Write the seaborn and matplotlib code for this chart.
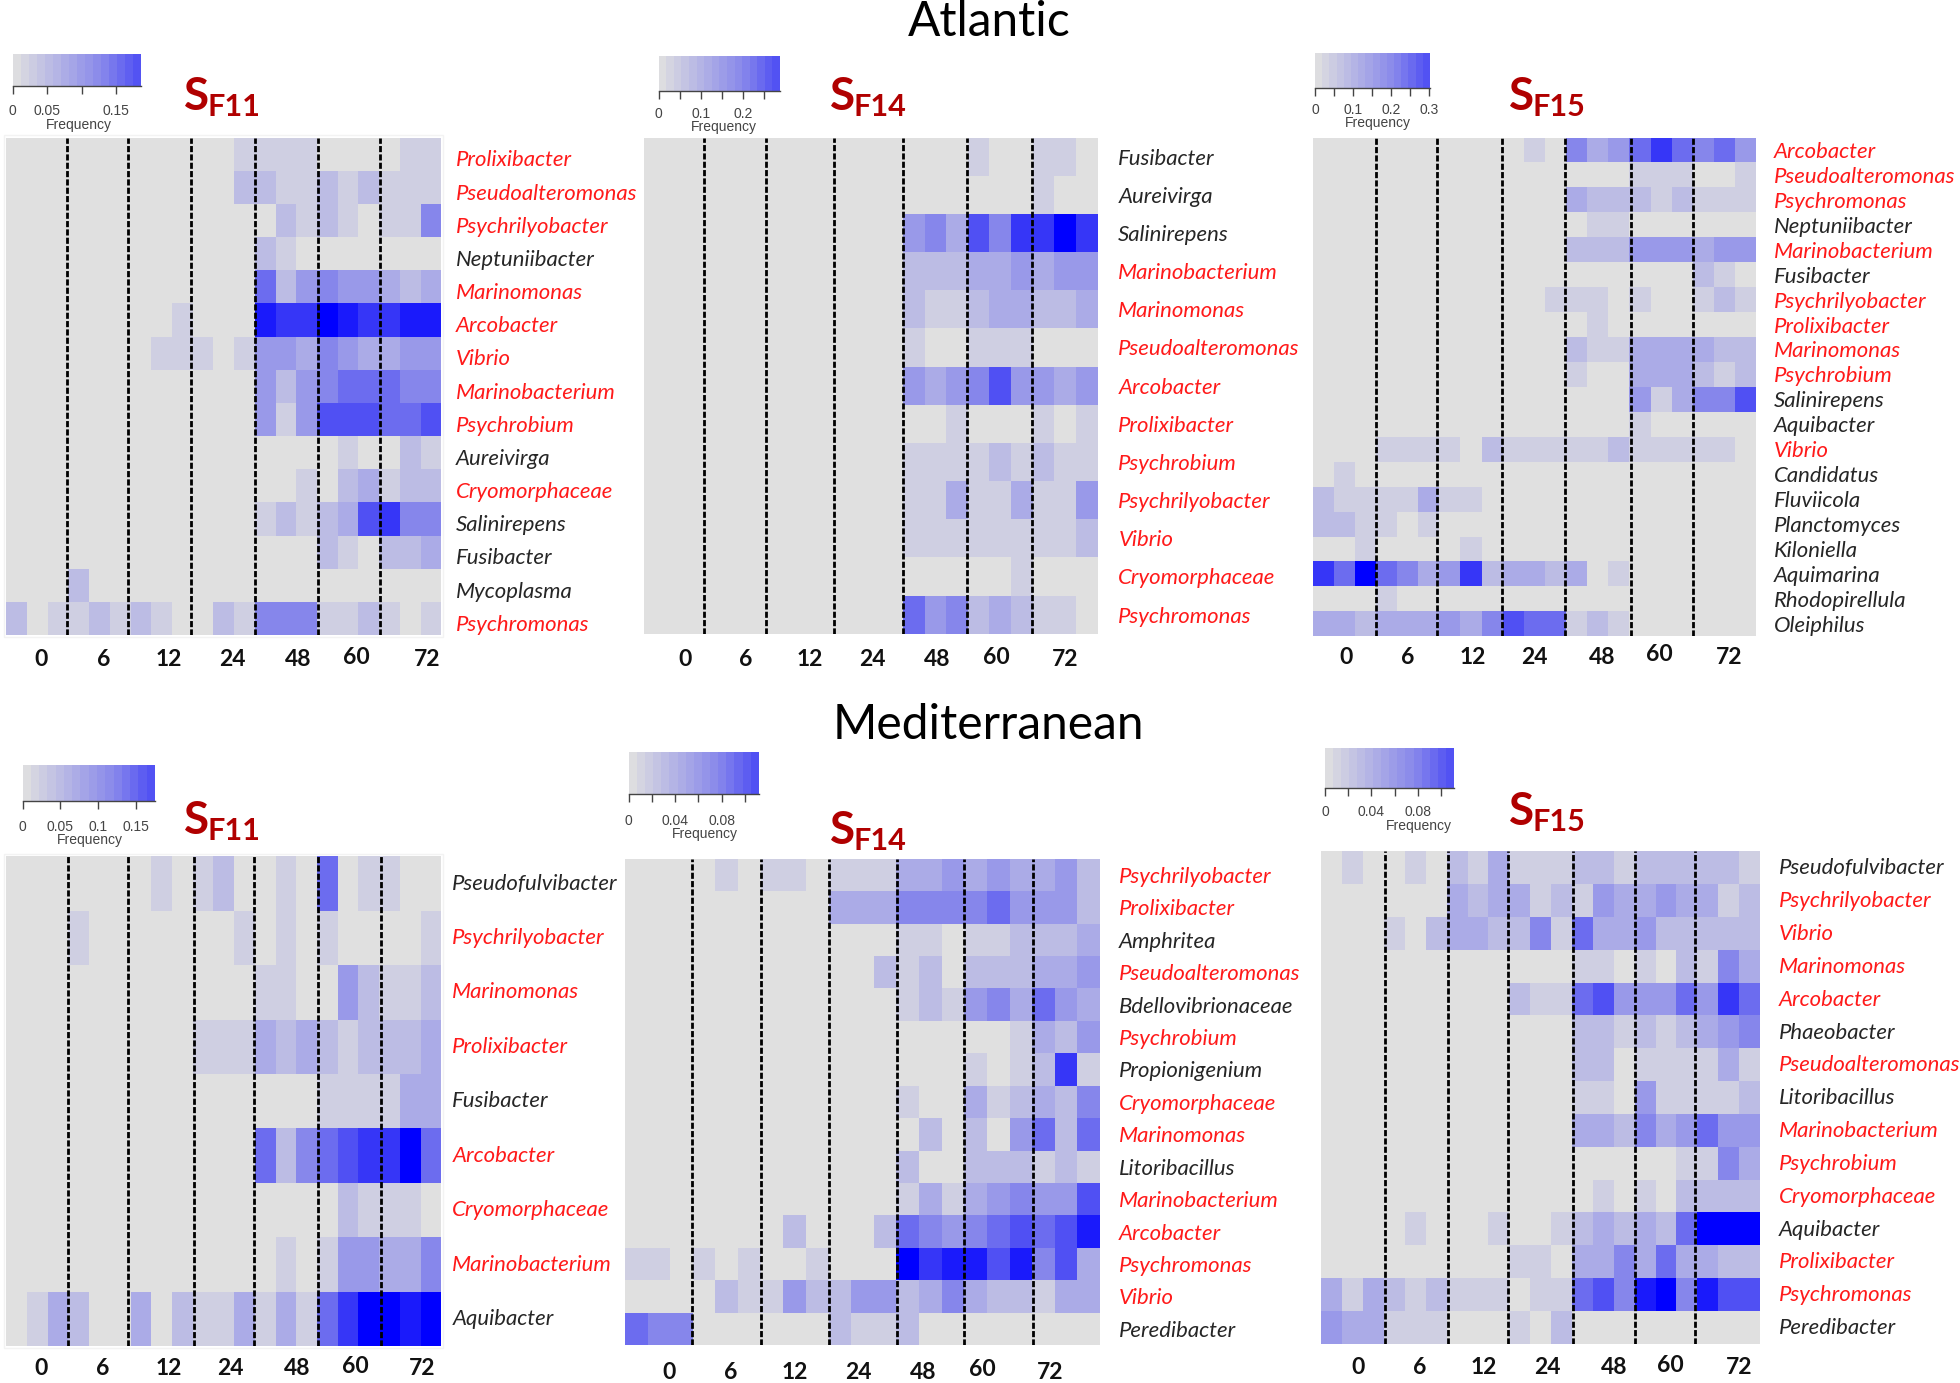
"""Six genus-by-time frequency heatmaps for the Atlantic and Mediterranean trials."""

import numpy as np
import pandas as pd
import matplotlib.pyplot as plt
from matplotlib.colors import LinearSegmentedColormap
from matplotlib.patches import Rectangle
from matplotlib.transforms import ScaledTranslation

import seaborn as sns

####################################################################################################
####################################################################################################

## DATA
TIMES = ['0', '6', '12', '24', '48', '60', '72']
SAMPLES = list(range(21))

# Genera marked in red in every panel
RED_GENERA = ['Prolixibacter', 'Pseudoalteromonas', 'Psychrilyobacter', 'Marinomonas', 'Arcobacter',
              'Vibrio', 'Marinobacterium', 'Psychrobium', 'Cryomorphaceae', 'Psychromonas']

# Cells are colour steps: 0 is grey and 10 is full blue
ATL_F11_GENERA = ['Prolixibacter', 'Pseudoalteromonas', 'Psychrilyobacter', 'Neptuniibacter',
                  'Marinomonas', 'Arcobacter', 'Vibrio', 'Marinobacterium', 'Psychrobium',
                  'Aureivirga', 'Cryomorphaceae', 'Salinirepens', 'Fusibacter', 'Mycoplasma',
                  'Psychromonas']
ATL_F11 = [
    [0, 0, 0, 0, 0, 0, 0, 0, 0, 0, 0, 1, 1, 1, 1, 0, 0, 0, 0, 1, 1],
    [0, 0, 0, 0, 0, 0, 0, 0, 0, 0, 0, 2, 2, 1, 1, 2, 1, 2, 1, 1, 1],
    [0, 0, 0, 0, 0, 0, 0, 0, 0, 0, 0, 0, 0, 2, 1, 2, 1, 0, 1, 1, 5],
    [0, 0, 0, 0, 0, 0, 0, 0, 0, 0, 0, 0, 2, 1, 0, 0, 0, 0, 0, 0, 0],
    [0, 0, 0, 0, 0, 0, 0, 0, 0, 0, 0, 0, 6, 2, 4, 5, 4, 4, 3, 2, 3],
    [0, 0, 0, 0, 0, 0, 0, 0, 1, 0, 0, 0, 9, 8, 8, 10, 9, 8, 8, 9, 9],
    [0, 0, 0, 0, 0, 0, 0, 1, 1, 1, 0, 1, 4, 4, 3, 5, 4, 3, 3, 4, 4],
    [0, 0, 0, 0, 0, 0, 0, 0, 0, 0, 0, 0, 4, 2, 4, 5, 6, 6, 6, 5, 5],
    [0, 0, 0, 0, 0, 0, 0, 0, 0, 0, 0, 0, 4, 1, 4, 7, 7, 7, 6, 6, 7],
    [0, 0, 0, 0, 0, 0, 0, 0, 0, 0, 0, 0, 0, 0, 0, 0, 1, 0, 0, 2, 1],
    [0, 0, 0, 0, 0, 0, 0, 0, 0, 0, 0, 0, 0, 0, 1, 0, 2, 3, 1, 2, 2],
    [0, 0, 0, 0, 0, 0, 0, 0, 0, 0, 0, 0, 1, 2, 1, 2, 3, 7, 8, 5, 5],
    [0, 0, 0, 0, 0, 0, 0, 0, 0, 0, 0, 0, 0, 0, 0, 2, 1, 0, 2, 2, 3],
    [0, 0, 0, 2, 0, 0, 0, 0, 0, 0, 0, 0, 0, 0, 0, 0, 0, 0, 0, 0, 0],
    [2, 0, 1, 1, 2, 1, 2, 1, 0, 0, 2, 1, 5, 5, 5, 1, 1, 2, 1, 0, 1],
]

ATL_F14_GENERA = ['Fusibacter', 'Aureivirga', 'Salinirepens', 'Marinobacterium', 'Marinomonas',
                  'Pseudoalteromonas', 'Arcobacter', 'Prolixibacter', 'Psychrobium',
                  'Psychrilyobacter', 'Vibrio', 'Cryomorphaceae', 'Psychromonas']
ATL_F14 = [
    [0, 0, 0, 0, 0, 0, 0, 0, 0, 0, 0, 0, 0, 0, 0, 1, 0, 0, 1, 1, 0],
    [0, 0, 0, 0, 0, 0, 0, 0, 0, 0, 0, 0, 0, 0, 0, 0, 0, 0, 1, 0, 0],
    [0, 0, 0, 0, 0, 0, 0, 0, 0, 0, 0, 0, 4, 5, 3, 7, 5, 8, 8, 10, 8],
    [0, 0, 0, 0, 0, 0, 0, 0, 0, 0, 0, 0, 2, 2, 2, 3, 3, 4, 3, 4, 4],
    [0, 0, 0, 0, 0, 0, 0, 0, 0, 0, 0, 0, 2, 1, 1, 2, 3, 3, 2, 2, 3],
    [0, 0, 0, 0, 0, 0, 0, 0, 0, 0, 0, 0, 1, 0, 0, 1, 1, 1, 0, 0, 0],
    [0, 0, 0, 0, 0, 0, 0, 0, 0, 0, 0, 0, 4, 3, 4, 5, 7, 4, 4, 3, 4],
    [0, 0, 0, 0, 0, 0, 0, 0, 0, 0, 0, 0, 0, 0, 1, 0, 0, 0, 1, 0, 1],
    [0, 0, 0, 0, 0, 0, 0, 0, 0, 0, 0, 0, 1, 1, 1, 1, 2, 1, 2, 1, 1],
    [0, 0, 0, 0, 0, 0, 0, 0, 0, 0, 0, 0, 1, 1, 3, 1, 1, 3, 1, 1, 4],
    [0, 0, 0, 0, 0, 0, 0, 0, 0, 0, 0, 0, 1, 1, 1, 1, 1, 1, 1, 1, 2],
    [0, 0, 0, 0, 0, 0, 0, 0, 0, 0, 0, 0, 0, 0, 0, 0, 0, 1, 0, 0, 0],
    [0, 0, 0, 0, 0, 0, 0, 0, 0, 0, 0, 0, 6, 4, 5, 2, 3, 2, 1, 1, 0],
]

ATL_F15_GENERA = ['Arcobacter', 'Pseudoalteromonas', 'Psychromonas', 'Neptuniibacter',
                  'Marinobacterium', 'Fusibacter', 'Psychrilyobacter', 'Prolixibacter',
                  'Marinomonas', 'Psychrobium', 'Salinirepens', 'Aquibacter', 'Vibrio',
                  'Candidatus', 'Fluviicola', 'Planctomyces', 'Kiloniella', 'Aquimarina',
                  'Rhodopirellula', 'Oleiphilus']
ATL_F15 = [
    [0, 0, 0, 0, 0, 0, 0, 0, 0, 0, 1, 0, 5, 3, 4, 6, 8, 6, 5, 6, 4],
    [0, 0, 0, 0, 0, 0, 0, 0, 0, 0, 0, 0, 0, 0, 0, 1, 1, 1, 0, 0, 1],
    [0, 0, 0, 0, 0, 0, 0, 0, 0, 0, 0, 0, 3, 2, 2, 2, 1, 2, 1, 1, 1],
    [0, 0, 0, 0, 0, 0, 0, 0, 0, 0, 0, 0, 0, 1, 1, 0, 0, 0, 0, 0, 0],
    [0, 0, 0, 0, 0, 0, 0, 0, 0, 0, 0, 0, 2, 2, 2, 4, 4, 4, 3, 4, 4],
    [0, 0, 0, 0, 0, 0, 0, 0, 0, 0, 0, 0, 0, 0, 0, 0, 0, 0, 2, 1, 0],
    [0, 0, 0, 0, 0, 0, 0, 0, 0, 0, 0, 1, 1, 1, 0, 1, 0, 0, 1, 2, 1],
    [0, 0, 0, 0, 0, 0, 0, 0, 0, 0, 0, 0, 0, 1, 0, 0, 0, 0, 0, 0, 0],
    [0, 0, 0, 0, 0, 0, 0, 0, 0, 0, 0, 0, 2, 1, 1, 3, 3, 3, 3, 2, 2],
    [0, 0, 0, 0, 0, 0, 0, 0, 0, 0, 0, 0, 1, 0, 0, 3, 3, 3, 2, 1, 2],
    [0, 0, 0, 0, 0, 0, 0, 0, 0, 0, 0, 0, 0, 0, 0, 4, 1, 3, 5, 5, 7],
    [0, 0, 0, 0, 0, 0, 0, 0, 0, 0, 0, 0, 0, 0, 0, 1, 0, 0, 0, 0, 0],
    [0, 0, 0, 1, 1, 1, 1, 0, 2, 1, 1, 1, 1, 1, 2, 1, 1, 1, 1, 1, 0],
    [0, 1, 0, 0, 0, 0, 0, 0, 0, 0, 0, 0, 0, 0, 0, 0, 0, 0, 0, 0, 0],
    [2, 1, 1, 1, 1, 3, 1, 1, 0, 0, 0, 0, 0, 0, 0, 0, 0, 0, 0, 0, 0],
    [2, 2, 1, 1, 0, 1, 0, 0, 0, 0, 0, 0, 0, 0, 0, 0, 0, 0, 0, 0, 0],
    [0, 0, 1, 0, 0, 0, 0, 1, 0, 0, 0, 0, 0, 0, 0, 0, 0, 0, 0, 0, 0],
    [8, 6, 10, 6, 5, 3, 4, 8, 2, 3, 3, 2, 3, 0, 1, 0, 0, 0, 0, 0, 0],
    [0, 0, 0, 1, 0, 0, 0, 0, 0, 0, 0, 0, 0, 0, 0, 0, 0, 0, 0, 0, 0],
    [3, 3, 2, 3, 3, 3, 4, 3, 5, 7, 6, 6, 1, 2, 1, 0, 0, 0, 0, 0, 0],
]

MED_F11_GENERA = ['Pseudofulvibacter', 'Psychrilyobacter', 'Marinomonas', 'Prolixibacter',
                  'Fusibacter', 'Arcobacter', 'Cryomorphaceae', 'Marinobacterium', 'Aquibacter']
MED_F11 = [
    [0, 0, 0, 0, 0, 0, 0, 1, 0, 1, 2, 0, 0, 1, 0, 6, 0, 1, 1, 0, 0],
    [0, 0, 0, 1, 0, 0, 0, 0, 0, 0, 0, 1, 0, 1, 0, 1, 0, 0, 0, 0, 1],
    [0, 0, 0, 0, 0, 0, 0, 0, 0, 0, 0, 0, 1, 1, 0, 0, 4, 2, 1, 1, 2],
    [0, 0, 0, 0, 0, 0, 0, 0, 0, 1, 1, 1, 3, 2, 3, 2, 1, 2, 2, 2, 3],
    [0, 0, 0, 0, 0, 0, 0, 0, 0, 0, 0, 0, 0, 0, 0, 1, 1, 1, 1, 3, 3],
    [0, 0, 0, 0, 0, 0, 0, 0, 0, 0, 0, 0, 6, 2, 5, 6, 7, 8, 8, 10, 6],
    [0, 0, 0, 0, 0, 0, 0, 0, 0, 0, 0, 0, 0, 0, 0, 0, 2, 1, 1, 1, 0],
    [0, 0, 0, 0, 0, 0, 0, 0, 0, 0, 0, 0, 0, 1, 0, 1, 4, 4, 3, 3, 5],
    [0, 1, 3, 2, 0, 0, 3, 0, 2, 1, 1, 3, 1, 3, 1, 6, 8, 10, 10, 9, 10],
]

MED_F14_GENERA = ['Psychrilyobacter', 'Prolixibacter', 'Amphritea', 'Pseudoalteromonas',
                  'Bdellovibrionaceae', 'Psychrobium', 'Propionigenium', 'Cryomorphaceae',
                  'Marinomonas', 'Litoribacillus', 'Marinobacterium', 'Arcobacter',
                  'Psychromonas', 'Vibrio', 'Peredibacter']
MED_F14 = [
    [0, 0, 0, 0, 1, 0, 1, 1, 0, 1, 1, 1, 3, 3, 4, 3, 4, 3, 3, 4, 2],
    [0, 0, 0, 0, 0, 0, 0, 0, 0, 3, 3, 3, 5, 5, 5, 5, 6, 4, 4, 4, 2],
    [0, 0, 0, 0, 0, 0, 0, 0, 0, 0, 0, 0, 1, 1, 0, 1, 1, 2, 2, 2, 3],
    [0, 0, 0, 0, 0, 0, 0, 0, 0, 0, 0, 2, 1, 2, 0, 2, 2, 2, 3, 3, 4],
    [0, 0, 0, 0, 0, 0, 0, 0, 0, 0, 0, 0, 1, 2, 1, 4, 5, 3, 6, 4, 3],
    [0, 0, 0, 0, 0, 0, 0, 0, 0, 0, 0, 0, 0, 0, 0, 0, 0, 1, 3, 2, 4],
    [0, 0, 0, 0, 0, 0, 0, 0, 0, 0, 0, 0, 0, 0, 0, 1, 0, 1, 2, 8, 1],
    [0, 0, 0, 0, 0, 0, 0, 0, 0, 0, 0, 0, 1, 0, 0, 3, 1, 2, 3, 2, 5],
    [0, 0, 0, 0, 0, 0, 0, 0, 0, 0, 0, 0, 0, 2, 0, 2, 0, 4, 6, 2, 6],
    [0, 0, 0, 0, 0, 0, 0, 0, 0, 0, 0, 0, 2, 0, 0, 2, 2, 2, 1, 2, 1],
    [0, 0, 0, 0, 0, 0, 0, 0, 0, 0, 0, 0, 1, 3, 1, 3, 4, 5, 4, 4, 7],
    [0, 0, 0, 0, 0, 0, 0, 2, 0, 0, 0, 2, 6, 5, 4, 5, 6, 7, 6, 7, 9],
    [1, 1, 0, 1, 0, 1, 0, 0, 1, 0, 0, 0, 10, 8, 9, 9, 7, 9, 5, 7, 3],
    [0, 0, 0, 0, 2, 1, 1, 4, 2, 2, 4, 4, 2, 3, 5, 3, 2, 2, 1, 3, 3],
    [6, 5, 5, 0, 0, 0, 0, 0, 0, 2, 1, 1, 2, 0, 0, 0, 0, 0, 0, 0, 0],
]

MED_F15_GENERA = ['Pseudofulvibacter', 'Psychrilyobacter', 'Vibrio', 'Marinomonas', 'Arcobacter',
                  'Phaeobacter', 'Pseudoalteromonas', 'Litoribacillus', 'Marinobacterium',
                  'Psychrobium', 'Cryomorphaceae', 'Aquibacter', 'Prolixibacter', 'Psychromonas',
                  'Peredibacter']
MED_F15 = [
    [0, 1, 0, 0, 1, 0, 2, 1, 3, 1, 1, 1, 2, 2, 1, 2, 2, 2, 2, 2, 1],
    [0, 0, 0, 0, 0, 0, 3, 2, 3, 3, 1, 2, 1, 4, 3, 3, 4, 3, 3, 1, 2],
    [0, 0, 0, 1, 0, 2, 3, 3, 2, 2, 5, 1, 6, 3, 3, 4, 2, 2, 2, 2, 2],
    [0, 0, 0, 0, 0, 0, 0, 0, 0, 0, 0, 0, 1, 1, 0, 1, 0, 2, 1, 5, 3],
    [0, 0, 0, 0, 0, 0, 0, 0, 0, 2, 1, 1, 6, 7, 4, 4, 4, 6, 4, 8, 6],
    [0, 0, 0, 0, 0, 0, 0, 0, 0, 0, 0, 0, 2, 2, 1, 2, 1, 2, 3, 4, 5],
    [0, 0, 0, 0, 0, 0, 0, 0, 0, 0, 0, 0, 2, 2, 0, 1, 1, 1, 1, 3, 1],
    [0, 0, 0, 0, 0, 0, 0, 0, 0, 0, 0, 0, 1, 1, 0, 4, 1, 1, 1, 1, 2],
    [0, 0, 0, 0, 0, 0, 0, 0, 0, 0, 0, 0, 3, 3, 2, 5, 3, 4, 6, 4, 4],
    [0, 0, 0, 0, 0, 0, 0, 0, 0, 0, 0, 0, 0, 0, 0, 0, 0, 1, 1, 5, 3],
    [0, 0, 0, 0, 0, 0, 0, 0, 0, 0, 0, 0, 0, 1, 0, 1, 0, 2, 2, 2, 2],
    [0, 0, 0, 0, 1, 0, 0, 0, 1, 0, 0, 1, 2, 3, 2, 3, 2, 6, 10, 10, 10],
    [0, 0, 0, 0, 0, 0, 0, 0, 0, 1, 1, 0, 3, 3, 5, 3, 6, 3, 3, 2, 2],
    [3, 1, 3, 2, 1, 2, 1, 1, 1, 0, 1, 1, 6, 7, 5, 9, 10, 5, 9, 7, 7],
    [4, 3, 3, 1, 1, 1, 0, 0, 0, 1, 0, 2, 0, 0, 0, 0, 0, 0, 0, 0, 0],
]

## SETTINGS
GREY = '#e0e0e0'
MID = '#8787eb'
BLUE = '#0000ff'
DARK_RED = '#b00000'
RED = '#ff1a1a'
BLACK = '#262626'
FRAME = '#f3f3f3'
WIDTH, HEIGHT = 1960, 1383
SCALE = 1.25    # layout numbers below are read on the 1568 wide view

# Each panel: the data, boxes in view pixels and the drawn position of the hand-placed marks
PANELS = [
    dict(values=ATL_F11, genera=ATL_F11_GENERA, code='F11', box=(5, 110, 353, 508),
         full=0.26, bar=(10, 43, 113, 69), bar_end=0.186, step=0.05, tick_pad=7.5,
         labelled={0: '0', 0.05: '0.05', 0.15: '0.15'}, freq=(63, 100),
         s_xy=(147, 88), f_xy=(166, 93), pad=10.5, label_dy=3.5, time_y=528, frame=True,
         lines=[2.92, 5.9, 8.91, 11.99, 15.05, 18.05],
         time_x=[1.7, 4.7, 7.85, 10.9, 14.1, 16.9, 20.3]),
    dict(values=ATL_F14, genera=ATL_F14_GENERA, code='F14', box=(515, 110, 878, 507),
         full=0.40, bar=(527, 45, 624, 73), bar_end=0.288, step=0.05, tick_pad=6,
         labelled={0: '0', 0.1: '0.1', 0.2: '0.2'}, freq=(579, 102),
         s_xy=(664, 88), f_xy=(683, 93), pad=15, label_dy=0, time_y=528, frame=False,
         lines=[2.8, 5.64, 8.82, 12.0, 14.96, 17.95],
         time_x=[1.93, 4.7, 7.7, 10.6, 13.6, 16.3, 19.5]),
    dict(values=ATL_F15, genera=ATL_F15_GENERA, code='F15', box=(1050, 110, 1405, 509),
         full=0.42, bar=(1052, 42, 1144, 70), bar_end=0.303, step=0.05, tick_pad=6,
         labelled={0: '0', 0.1: '0.1', 0.2: '0.2', 0.3: '0.3'}, freq=(1102, 98),
         s_xy=(1207, 88), f_xy=(1226, 93), pad=12.5, label_dy=0, time_y=526, frame=False,
         lines=[3.01, 5.88, 8.99, 11.97, 15.08, 17.99],
         time_x=[1.6, 4.5, 7.6, 10.5, 13.7, 16.4, 19.7]),
    dict(values=MED_F11, genera=MED_F11_GENERA, code='F11', box=(5, 685, 353, 1077),
         full=0.243, bar=(18, 612, 124, 641), bar_end=0.175, step=0.05, tick_pad=8.4,
         labelled={0: '0', 0.05: '0.05', 0.1: '0.1', 0.15: '0.15'}, freq=(72, 672),
         s_xy=(147, 667), f_xy=(166, 672), pad=8, label_dy=-1.5, time_y=1095, frame=True,
         lines=[2.97, 5.88, 9.06, 11.97, 15.04, 18.07],
         time_x=[1.7, 4.66, 7.83, 10.8, 14.05, 16.87, 20.1]),
    dict(values=MED_F14, genera=MED_F14_GENERA, code='F14', box=(500, 687, 880, 1076),
         full=0.155, bar=(503, 602, 607, 635), bar_end=0.112, step=0.02, tick_pad=9.3,
         labelled={0: '0', 0.04: '0.04', 0.08: '0.08'}, freq=(564, 667),
         s_xy=(664, 675), f_xy=(683, 680), pad=13.5, label_dy=0, time_y=1098, frame=False,
         lines=[2.97, 6.03, 9.0, 12.02, 14.97, 18.04],
         time_x=[1.94, 4.66, 7.5, 10.3, 13.2, 15.8, 18.8]),
    dict(values=MED_F15, genera=MED_F15_GENERA, code='F15', box=(1057, 681, 1408, 1075),
         full=0.154, bar=(1060, 598, 1163, 630), bar_end=0.111, step=0.02, tick_pad=7.5,
         labelled={0: '0', 0.04: '0.04', 0.08: '0.08'}, freq=(1135, 661),
         s_xy=(1207, 660), f_xy=(1226, 665), pad=13.5, label_dy=-1, time_y=1094, frame=False,
         lines=[3.07, 6.06, 8.95, 12.06, 15.0, 17.9],
         time_x=[1.76, 4.7, 7.8, 10.8, 14.0, 16.7, 20.0]),
]


def add_axes_view(fig, box):
    """Add axes from a (left, top, right, bottom) box in view pixels."""

    left, top, right, bottom = [val * SCALE for val in box]
    return fig.add_axes([left / WIDTH, 1 - bottom / HEIGHT,
                         (right - left) / WIDTH, (bottom - top) / HEIGHT])


def text_view(fig, x_pos, y_pos, text, **kwargs):
    """Place figure text at a position in view pixels."""

    fig.text(x_pos * SCALE / WIDTH, 1 - y_pos * SCALE / HEIGHT, text, **kwargs)


def add_frame(fig, box, pad=2):
    """Draw the faint frame left around a pasted panel."""

    left, top, right, bottom = [val * SCALE for val in box]
    fig.add_artist(Rectangle(((left - pad) / WIDTH, 1 - (bottom + pad) / HEIGHT),
                             (right - left + 2 * pad) / WIDTH, (bottom - top + 2 * pad) / HEIGHT,
                             transform=fig.transFigure, fill=False, edgecolor=FRAME, lw=1, zorder=0))


def plot_panel(fig, cmap, panel):
    """Plot one heatmap with its colour bar, strain label and dashed time separators."""

    levels = np.array(panel['values'], dtype=float)
    df = pd.DataFrame(levels * panel['full'] / 10, index=panel['genera'], columns=SAMPLES)

    if panel['frame']:
        add_frame(fig, panel['box'])
    ax = add_axes_view(fig, panel['box'])
    cax = add_axes_view(fig, panel['bar'])
    bands = np.linspace(0, panel['bar_end'], 17)
    sns.heatmap(df, ax=ax, cmap=cmap, vmin=0, vmax=panel['full'], cbar_ax=cax,
                cbar_kws={'orientation': 'horizontal', 'boundaries': bands, 'spacing': 'proportional'},
                xticklabels=False, yticklabels=True)

    # Genus labels on the right
    ax.yaxis.tick_right()
    ax.tick_params(axis='both', length=0)
    ax.tick_params(axis='y', pad=panel['pad'], labelrotation=0)
    shift = ScaledTranslation(0, -panel['label_dy'] * SCALE / 100, fig.dpi_scale_trans)
    for label in ax.get_yticklabels():
        label.set(fontsize=15.9, fontstyle='italic', family='Lato',
                  color=RED if label.get_text() in RED_GENERA else BLACK)
        label.set_transform(label.get_transform() + shift)
    ax.set(xlabel='', ylabel='')

    for pos in panel['lines']:
        ax.axvline(pos, color='black', lw=2, dashes=(2.2, 0.8))

    # Time labels sit on a slightly uneven line in the reference
    left, _, right, _ = panel['box']
    for name, pos in zip(TIMES, panel['time_x']):
        x_pos = left + (right - left) * pos / len(SAMPLES)
        y_pos = panel['time_y'] - 2 if name == '60' else panel['time_y']
        text_view(fig, x_pos, y_pos, name, ha='center', va='center', fontsize=16.5,
                  fontweight='bold', family='Lato', color='#111111')

    # Colour bar stops short of full blue, with only some ticks labelled
    cbar = ax.collections[0].colorbar
    ticks = np.arange(0, panel['bar_end'] + 1e-6, panel['step'])
    names = [next((lab for val, lab in panel['labelled'].items() if abs(val - tick) < 1e-6), '')
             for tick in ticks]
    cbar.set_ticks(ticks, labels=names)
    cbar.outline.set_visible(False)
    cax.spines['bottom'].set_visible(True)
    cax.spines['bottom'].set(color='#444444', linewidth=1)
    cax.tick_params(axis='x', length=5.4, width=1, color='#444444', pad=panel['tick_pad'],
                    labelsize=10, labelcolor='#444444')
    for label in cax.get_xticklabels():
        label.set_family('Liberation Sans')
    text_view(fig, *panel['freq'], 'Frequency', ha='center', va='center', fontsize=10,
              family='Liberation Sans', color='#444444')

    # Strain name as a large S with a lower code
    text_view(fig, *panel['s_xy'], 'S', ha='left', va='baseline', fontsize=33, fontweight='bold',
              family='Lato', color=DARK_RED)
    text_view(fig, *panel['f_xy'], panel['code'], ha='left', va='baseline', fontsize=22,
              fontweight='bold', family='Lato', color=DARK_RED)


sns.set_theme(style='white')
plt.rcParams['font.family'] = ['Lato', 'DejaVu Sans']

fig = plt.figure(figsize=(WIDTH / 100, HEIGHT / 100), dpi=100)
cmap = LinearSegmentedColormap.from_list('grey_blue', [GREY, MID, BLUE], N=256)

for panel in PANELS:
    plot_panel(fig, cmap, panel)

text_view(fig, 791, 18, 'Atlantic', ha='center', va='center', fontsize=34.5, color='black')
text_view(fig, 791, 580, 'Mediterranean', ha='center', va='center', fontsize=34.5, color='black')

fig.savefig('out.png', dpi=100)
